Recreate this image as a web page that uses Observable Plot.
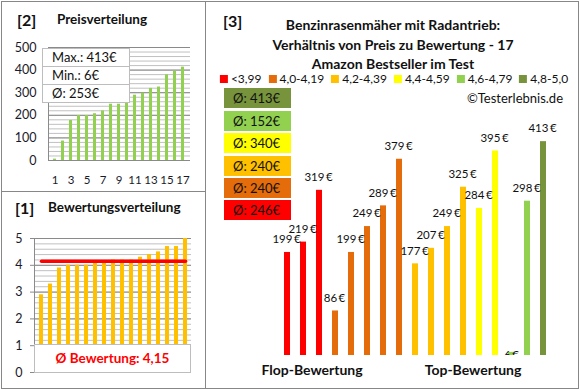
<!DOCTYPE html>
<html><head><meta charset="utf-8">
<script src="https://cdn.jsdelivr.net/npm/d3@7"></script>
<script src="https://cdn.jsdelivr.net/npm/@observablehq/plot@0.6"></script>
<style>
body{margin:0;background:#fff;font-family:Lato,"Open Sans",sans-serif;color:#111;}
#root{position:relative;width:580px;height:390px;overflow:hidden;background:#fff;}
.abs{position:absolute;white-space:nowrap;}
.b{font-weight:bold;}
.chart{position:absolute;}
.chart svg{display:block;}
.leg{display:flex;gap:7px;align-items:center;}
.leg span.it{display:inline-flex;align-items:center;}
.leg i{display:inline-block;width:8px;height:8px;margin-right:3px;}
</style></head><body><div id="root"></div>
<script>
// ---------- data ----------
const rankIdx = d3.range(1, 18);
const sortedPrices = [6, 86, 177, 199, 199, 207, 219, 249, 249, 284, 289, 298, 319, 325, 379, 395, 413];
const sortedRatings = [2.9, 3.3, 3.9, 4.0, 4.0, 4.0, 4.1, 4.1, 4.2, 4.2, 4.2, 4.3, 4.4, 4.5, 4.7, 4.7, 5.0];
const barPrices = [199, 219, 319, 86, 199, 249, 289, 379, 177, 207, 249, 325, 284, 395, 6, 298, 413];
const barGroups = ["<3,99", "<3,99", "<3,99",
  "4,0-4,19", "4,0-4,19", "4,0-4,19", "4,0-4,19", "4,0-4,19",
  "4,2-4,39", "4,2-4,39", "4,2-4,39", "4,2-4,39",
  "4,4-4,59", "4,4-4,59", "4,6-4,79", "4,6-4,79", "4,8-5,0"];
const groupNames = ["<3,99", "4,0-4,19", "4,2-4,39", "4,4-4,59", "4,6-4,79", "4,8-5,0"];
const groupColors = ["#ff0000", "#e46c0a", "#ffc000", "#ffff00", "#92d050", "#77933c"];
const priceTicks = [0, 100, 200, 300, 400, 500];
const rankTicks = [1, 3, 5, 7, 9, 11, 13, 15, 17];
const ratingTicks = [0, 1, 2, 3, 4, 5];

const FONT = 'Lato, "Open Sans", sans-serif';
const root = document.getElementById("root");
function add(html, style, cls) {
  const d = document.createElement("div");
  d.className = "abs " + (cls || "");
  d.innerHTML = html;
  Object.assign(d.style, style);
  root.appendChild(d);
  return d;
}
function place(svg, left, top) {
  const w = document.createElement("div");
  w.className = "chart";
  w.style.left = left + "px"; w.style.top = top + "px";
  w.appendChild(svg);
  root.appendChild(w);
}

// ---------- panel borders ----------
add("", {left: "1px", top: "1px", width: "578px", height: "388px", border: "1px solid #878787", boxSizing: "border-box"});
add("", {left: "205px", top: "1px", width: "1px", height: "388px", background: "#878787"});
add("", {left: "1px", top: "191px", width: "205px", height: "1px", background: "#878787"});

// ---------- panel [2] Preisverteilung ----------
const p2 = Plot.plot({
  width: 205, height: 190,
  marginLeft: 48, marginRight: 15, marginTop: 47, marginBottom: 30,
  x: {type: "band", domain: rankIdx, paddingInner: 0.62, paddingOuter: 0.31, axis: null},
  y: {domain: [0, 500], axis: null},
  style: {fontFamily: FONT, fontSize: "12px", color: "#1a1a2a", background: "transparent"},
  marks: [
    Plot.ruleY(d3.range(0, 501, 20), {stroke: "#c0c0c0"}),
    Plot.ruleY(priceTicks, {stroke: "#8a8a8a"}),
    Plot.frame({anchor: "left", stroke: "#8a8a8a"}),
    Plot.barY(sortedPrices.map((v, i) => ({r: rankIdx[i], v})), {x: "r", y: "v", fill: "#92d050"}),
    Plot.axisY(priceTicks, {tickSize: 0, tickPadding: 12, fontSize: 12.5, label: null}),
    Plot.axisX(rankTicks, {tickSize: 0, tickPadding: 15, fontSize: 11.5, label: null})
  ]
});
place(p2, 0, 0);
add("[2]", {left: "17px", top: "10px", fontSize: "16px"}, "b");
add("Preisverteilung", {left: "57px", top: "11px", fontSize: "13.5px"}, "b");
const statRows = [
  "Max.: " + d3.max(sortedPrices) + "€",
  "Min.: " + d3.min(sortedPrices) + "€",
  "Ø: " + Math.round(d3.mean(sortedPrices)) + "€"
];
statRows.forEach((t, i) => {
  add(t, {left: "42px", top: (48 + i * 18) + "px", width: "88px", height: "19px", boxSizing: "border-box",
    border: "1px solid #bdbdbd", background: "#fff", fontSize: "13px", lineHeight: "17px", paddingLeft: "9px"});
});

// ---------- panel [1] Bewertungsverteilung ----------
const avgRating = d3.mean(sortedRatings);
const p1 = Plot.plot({
  width: 205, height: 196,
  marginLeft: 34, marginRight: 14, marginTop: 46, marginBottom: 16,
  x: {type: "band", domain: rankIdx, paddingInner: 0.56, paddingOuter: 0.28, axis: null},
  y: {domain: [0, 5], axis: null},
  style: {fontFamily: FONT, fontSize: "12.5px", color: "#1a1a2a", background: "transparent"},
  marks: [
    Plot.ruleY(d3.range(0, 5.01, 0.2), {stroke: "#c0c0c0"}),
    Plot.ruleY(ratingTicks, {stroke: "#8a8a8a"}),
    Plot.frame({anchor: "left", stroke: "#8a8a8a"}),
    Plot.barY(sortedRatings.map((v, i) => ({r: rankIdx[i], v})), {x: "r", y: "v", fill: "#ffc000"}),
    Plot.line([{r: rankIdx[0], v: avgRating}, {r: rankIdx[16], v: avgRating}], {x: "r", y: "v", stroke: "#ff0000", strokeWidth: 3.5}),
    Plot.axisY(ratingTicks, {tickSize: 4, tickPadding: 8, stroke: "#8a8a8a", fontSize: 12.5, label: null})
  ]
});
place(p1, 0, 192);
add("[1]", {left: "15px", top: "198px", fontSize: "16px"}, "b");
add("Bewertungsverteilung", {left: "48px", top: "199px", fontSize: "13.5px"}, "b");
add("Ø Bewertung: " + avgRating.toFixed(2).replace(".", ","),
  {left: "34px", top: "344px", width: "157px", height: "29px", boxSizing: "border-box", border: "1px solid #bdbdbd",
   background: "#fff", color: "#ff0000", fontSize: "13.5px", fontWeight: "bold", textAlign: "center", lineHeight: "27px"});

// ---------- panel [3] ----------
const barData = barPrices.map((v, i) => ({i, v, g: barGroups[i]}));
const p3 = Plot.plot({
  width: 372, height: 288,
  marginLeft: 66, marginRight: 20, marginTop: 22, marginBottom: 33,
  x: {type: "band", domain: d3.range(barPrices.length), paddingInner: 0.6, paddingOuter: 0.3, axis: null},
  y: {domain: [0, 450], axis: null},
  color: {domain: groupNames, range: groupColors},
  style: {fontFamily: FONT, fontSize: "11.5px", color: "#111", background: "transparent"},
  marks: [
    Plot.barY(barData, {x: "i", y: "v", fill: "g"}),
    Plot.text(barData.filter(d => d.v >= 20), {x: "i", y: "v", text: d => d.v + "\u2009€", dy: -13, dx: -1, fill: "#111"}),
    Plot.text(barData.filter(d => d.v < 20), {x: "i", y: "v", text: d => d.v + "\u2009€", dy: 3, fill: "#111", clip: true})
  ]
});
place(p3, 206, 100);

add("[3]", {left: "223px", top: "11px", fontSize: "16px"}, "b");
const titleLines = ["Benzinrasenmäher mit Radantrieb:", "Verhältnis von Preis zu Bewertung - 17", "Amazon Bestseller im Test"];
const titleTops = [18, 38, 57];
titleLines.forEach((t, k) => {
  add(t, {left: "393px", transform: "translateX(-50%)", top: titleTops[k] + "px", fontSize: "14px", lineHeight: "14px"}, "b");
});
const legHtml = groupNames.map((g, k) =>
  '<span class="it"><i style="background:' + groupColors[k] + '"></i>' + g + '</span>').join("");
add(legHtml, {left: "394px", transform: "translateX(-50%)", top: "72px", fontSize: "12px", lineHeight: "13px"}, "leg");
add("©Testerlebnis.de", {right: "17px", top: "90px", fontSize: "13px", lineHeight: "16px"});

// average boxes (top: best group)
const avgBoxTop = [88, 111, 133, 156, 178, 200];
groupNames.slice().reverse().forEach((g, k) => {
  const vals = barPrices.filter((v, i) => barGroups[i] === g);
  const avg = Math.round(d3.mean(vals));
  const col = groupColors[groupNames.indexOf(g)];
  add("Ø: " + avg + "€", {left: "224px", top: avgBoxTop[k] + "px", width: "67px", height: "20px",
    background: col, fontSize: "13px", lineHeight: "20px", paddingLeft: "9px", boxSizing: "border-box"});
});

add("Flop-Bewertung", {left: "312px", transform: "translateX(-50%)", top: "363px", fontSize: "14px", lineHeight: "14px"}, "b");
add("Top-Bewertung", {left: "473px", transform: "translateX(-50%)", top: "363px", fontSize: "14px", lineHeight: "14px"}, "b");
</script></body></html>
